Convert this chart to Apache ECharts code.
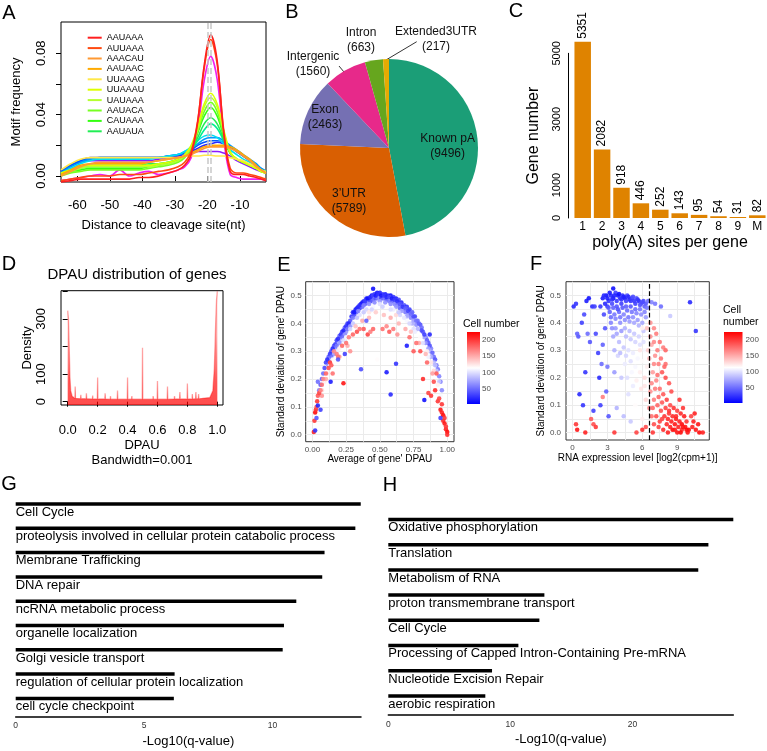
<!DOCTYPE html>
<html><head><meta charset="utf-8">
<script src="https://cdn.jsdelivr.net/npm/echarts@6/dist/echarts.min.js"></script>
<style>html,body{margin:0;padding:0;background:#fff}#c{width:767px;height:751px}</style>
</head><body><div id="c"></div>
<script>
const FONT = '"Liberation Sans", Arial, Helvetica, sans-serif';

// ---------- Panel A : motif frequency ----------
const motifPos = [-65,-62,-59,-56,-53,-50,-47,-44,-41,-38,-35,-32,-29,-27,-25,-23,-21,-19,-17,-15,-13,-11,-9,-7,-5,-3.5,-2];
const motifNames = ['AAUAAA','AUUAAA','AAACAU','AAUAAC','UUAAAG','UUAAAU','UAUAAA','AAUACA','CAUAAA','AAUAUA','motif 11','motif 12','motif 13','motif 14','motif 15','motif 16','motif 17'];
const motifColors = ['#FF2020','#FF4A10','#FF9933','#FFAA00','#FFE84A','#DDFF00','#B5FF30','#77FF22','#33FF11','#22EE55','#00F090','#00E0F0','#0099FF','#0055FF','#2828FF','#8C1AFF','#F020F0'];
const freqAAUAAA = [-0.004,-0.003,-0.002,-0.002,-0.002,-0.002,-0.002,-0.002,-0.001,-0.001,0.000,0.002,0.004,0.007,0.014,0.035,0.072,0.092,0.075,0.028,0.003,0.001,0.001,0.000,-0.001,-0.002,-0.003];
const freqAUUAAA = [-0.003,-0.002,-0.001,0.000,0.000,0.000,0.001,0.001,0.001,0.002,0.003,0.004,0.006,0.009,0.016,0.036,0.070,0.089,0.073,0.030,0.005,0.002,0.002,0.001,0.000,-0.001,-0.002];
const freqAAACAU = [0.000,0.003,0.006,0.008,0.009,0.009,0.009,0.009,0.009,0.009,0.010,0.011,0.012,0.013,0.014,0.016,0.018,0.019,0.019,0.019,0.018,0.016,0.013,0.010,0.006,0.004,0.002];
const freqAAUAAC = [0.001,0.004,0.007,0.008,0.008,0.008,0.008,0.008,0.008,0.009,0.010,0.011,0.012,0.013,0.015,0.017,0.019,0.020,0.020,0.020,0.019,0.017,0.014,0.011,0.007,0.004,0.002];
const freqUUAAAG = [0.004,0.008,0.011,0.012,0.012,0.012,0.012,0.012,0.012,0.012,0.012,0.012,0.012,0.013,0.013,0.013,0.0135,0.0135,0.013,0.013,0.012,0.011,0.010,0.008,0.006,0.004,0.003];
const freqUUAAAU = [0.002,0.004,0.006,0.007,0.007,0.007,0.007,0.007,0.007,0.007,0.008,0.009,0.011,0.014,0.020,0.032,0.047,0.054,0.047,0.030,0.016,0.011,0.009,0.007,0.005,0.003,0.002];
const freqUAUAAA = [0.001,0.003,0.005,0.006,0.006,0.006,0.006,0.006,0.006,0.006,0.007,0.008,0.010,0.013,0.019,0.030,0.045,0.051,0.045,0.029,0.015,0.011,0.009,0.007,0.005,0.003,0.002];
const freqAAUACA = [0.000,0.002,0.003,0.004,0.004,0.004,0.004,0.004,0.004,0.005,0.006,0.007,0.009,0.012,0.018,0.029,0.042,0.048,0.042,0.027,0.015,0.011,0.009,0.007,0.005,0.003,0.002];
const freqCAUAAA = [0.001,0.003,0.004,0.005,0.005,0.005,0.005,0.005,0.005,0.006,0.007,0.008,0.010,0.013,0.018,0.028,0.039,0.0447,0.039,0.026,0.015,0.011,0.009,0.007,0.005,0.003,0.002];
const freqAAUAUA = [0.002,0.004,0.006,0.007,0.007,0.007,0.007,0.007,0.007,0.008,0.008,0.009,0.011,0.013,0.017,0.025,0.034,0.038,0.034,0.024,0.015,0.011,0.009,0.007,0.005,0.004,0.003];
const freqMotif11 = [0.001,0.003,0.005,0.006,0.006,0.006,0.006,0.006,0.006,0.007,0.008,0.009,0.011,0.013,0.017,0.023,0.030,0.034,0.031,0.023,0.015,0.011,0.009,0.007,0.005,0.004,0.003];
const freqMotif12 = [0.002,0.005,0.008,0.010,0.011,0.011,0.011,0.011,0.011,0.011,0.012,0.013,0.014,0.016,0.019,0.023,0.026,0.0267,0.025,0.021,0.017,0.014,0.011,0.009,0.006,0.004,0.003];
const freqMotif13 = [0.002,0.006,0.009,0.011,0.012,0.012,0.012,0.012,0.012,0.012,0.012,0.013,0.014,0.016,0.018,0.021,0.024,0.025,0.025,0.023,0.020,0.017,0.014,0.011,0.008,0.005,0.003];
const freqMotif14 = [0.003,0.007,0.010,0.011,0.012,0.012,0.012,0.012,0.012,0.012,0.012,0.013,0.014,0.015,0.017,0.020,0.022,0.023,0.023,0.022,0.019,0.016,0.013,0.010,0.007,0.005,0.003];
const freqMotif15 = [0.003,0.007,0.010,0.012,0.012,0.012,0.012,0.012,0.012,0.012,0.012,0.013,0.013,0.014,0.016,0.018,0.020,0.021,0.022,0.021,0.019,0.016,0.013,0.010,0.007,0.004,0.002];
const freqMotif16 = [0.003,0.007,0.009,0.010,0.010,0.010,0.010,0.010,0.010,0.010,0.011,0.012,0.013,0.014,0.015,0.016,0.016,0.016,0.016,0.015,0.013,0.010,0.008,0.006,0.004,0.003,0.002];
const freqMotif17 = [-0.003,-0.002,-0.001,0.000,0.001,0.000,0.004,0.000,0.002,0.003,0.001,0.002,0.004,0.006,0.012,0.030,0.062,0.078,0.063,0.024,0.001,-0.001,-0.002,-0.002,-0.002,-0.002,-0.003];
const motifFreqs = [freqAAUAAA,freqAUUAAA,freqAAACAU,freqAAUAAC,freqUUAAAG,freqUUAAAU,freqUAUAAA,freqAAUACA,freqCAUAAA,freqAAUAUA,freqMotif11,freqMotif12,freqMotif13,freqMotif14,freqMotif15,freqMotif16,freqMotif17];
const motifDashes = [-20, -19];

// ---------- Panel B : pie ----------
const pieNames = ['Known pA','3’UTR','Exon','Intergenic','Intron','Extended3UTR'];
const pieCounts = [9496, 5789, 2463, 1560, 663, 217];
const pieColors = ['#1B9E77','#D95F02','#7570B3','#E7298A','#66A61E','#E6AB02'];

// ---------- Panel C : bars ----------
const cCategories = ['1','2','3','4','5','6','7','8','9','M'];
const cCounts = [5351, 2082, 918, 446, 252, 143, 95, 54, 31, 82];

// ---------- Panel D : DPAU density ----------
const dpauX = [0,0.005,0.01,0.015,0.02,0.03,0.04,0.048,0.05,0.052,0.086,0.088,0.09,0.123,0.125,0.127,0.165,0.167,0.169,0.198,0.2,0.202,0.248,0.25,0.252,0.284,0.286,0.288,0.331,0.333,0.335,0.398,0.4,0.402,0.427,0.429,0.431,0.498,0.5,0.502,0.569,0.571,0.573,0.598,0.6,0.602,0.665,0.667,0.669,0.712,0.714,0.716,0.748,0.75,0.752,0.798,0.8,0.802,0.831,0.833,0.835,0.855,0.857,0.859,0.873,0.875,0.877,0.9,0.95,0.97,0.98,0.99,0.995,1.0];
const dpauDensity = [330,300,200,90,40,20,14,12,55,12,11,25,11,11,30,11,10,22,10,10,88,10,10,30,10,9,20,9,9,40,9,9,88,9,9,20,9,9,195,9,9,20,9,9,75,9,9,55,9,10,20,10,10,35,10,10,66,10,10,28,10,11,35,11,11,28,11,12,15,40,120,300,370,400];

// ---------- Panel E : sd vs mean DPAU  [mean, sd, cell number] ----------
const ePoints = [
[0.30,0.44,20],[0.32,0.45,15],[0.34,0.46,25],[0.36,0.47,10],[0.38,0.48,30],[0.40,0.49,15],[0.42,0.49,20],[0.44,0.50,10],[0.46,0.505,25],[0.48,0.51,12],[0.50,0.51,18],[0.52,0.505,30],[0.54,0.505,15],[0.56,0.50,22],[0.58,0.50,10],[0.60,0.495,28],[0.62,0.49,16],[0.64,0.485,35],[0.66,0.475,20],[0.68,0.465,40],[0.70,0.46,25],[0.72,0.45,30],[0.74,0.44,45],[0.76,0.425,35],[0.78,0.41,50],[0.80,0.395,40],
[0.28,0.41,40],[0.31,0.43,35],[0.33,0.44,45],[0.35,0.455,30],[0.37,0.46,50],[0.39,0.47,40],[0.41,0.475,55],[0.43,0.48,35],[0.45,0.485,45],[0.47,0.49,40],[0.49,0.49,60],[0.51,0.49,35],[0.53,0.49,50],[0.55,0.485,40],[0.57,0.48,55],[0.59,0.48,45],[0.61,0.47,60],[0.63,0.465,50],[0.65,0.455,45],[0.67,0.45,60],[0.69,0.44,55],[0.71,0.43,65],[0.73,0.42,60],[0.75,0.41,70],[0.77,0.395,65],
[0.29,0.425,25],[0.31,0.44,12],[0.33,0.455,18],[0.35,0.465,22],[0.37,0.475,14],[0.39,0.48,28],[0.41,0.49,9],[0.43,0.495,20],[0.45,0.50,30],[0.47,0.50,15],[0.49,0.505,24],[0.51,0.50,11],[0.53,0.50,26],[0.55,0.495,19],[0.57,0.495,33],[0.59,0.49,14],[0.61,0.485,27],[0.63,0.48,21],[0.65,0.47,38],[0.67,0.46,25],[0.69,0.455,42],[0.71,0.445,30],[0.73,0.435,48],[0.75,0.425,36],[0.77,0.41,52],[0.79,0.40,44],[0.81,0.385,50],
[0.30,0.42,55],[0.34,0.445,60],[0.38,0.465,58],[0.42,0.47,65],[0.46,0.475,62],[0.50,0.48,70],[0.54,0.475,66],[0.58,0.47,63],[0.62,0.46,68],[0.66,0.445,72],[0.70,0.425,75],[0.74,0.40,78],[0.78,0.38,80],
[0.10,0.26,30],[0.12,0.28,45],[0.14,0.30,35],[0.16,0.32,40],[0.18,0.34,30],[0.20,0.355,50],[0.22,0.37,35],[0.24,0.385,45],[0.26,0.40,30],[0.13,0.27,70],[0.17,0.31,65],[0.21,0.34,75],[0.25,0.37,70],[0.27,0.385,60],[0.08,0.22,50],[0.06,0.18,40],
[0.11,0.27,20],[0.13,0.29,25],[0.15,0.31,20],[0.17,0.325,28],[0.19,0.345,22],[0.21,0.36,26],[0.23,0.375,18],[0.25,0.39,24],[0.27,0.40,20],[0.09,0.24,35],[0.07,0.20,45],[0.05,0.16,55],[0.12,0.25,60],[0.16,0.29,72],[0.20,0.33,68],[0.24,0.36,62],[0.28,0.39,66],[0.14,0.28,50],[0.18,0.32,55],[0.22,0.35,48],[0.26,0.38,52],
[0.82,0.37,45],[0.84,0.35,55],[0.86,0.33,40],[0.88,0.31,60],[0.90,0.28,50],[0.92,0.25,55],[0.94,0.21,60],[0.83,0.35,75],[0.87,0.30,80],[0.91,0.25,85],
[0.81,0.375,35],[0.83,0.36,30],[0.85,0.34,42],[0.87,0.32,38],[0.89,0.295,46],[0.91,0.27,40],[0.93,0.235,52],[0.95,0.19,58],[0.96,0.16,62],[0.84,0.33,68],[0.86,0.31,72],[0.88,0.28,78],[0.90,0.26,82],[0.92,0.23,88],[0.94,0.19,90],
[0.30,0.40,90],[0.35,0.43,100],[0.40,0.45,95],[0.45,0.46,110],[0.50,0.47,100],[0.55,0.46,115],[0.60,0.45,105],[0.65,0.43,95],[0.70,0.41,110],[0.75,0.38,100],[0.80,0.35,115],[0.85,0.30,120],[0.88,0.26,125],[0.90,0.23,130],[0.93,0.18,120],[0.95,0.14,110],[0.25,0.35,110],[0.20,0.31,120],[0.15,0.27,115],[0.11,0.22,125],[0.09,0.19,120],[0.07,0.16,130],[0.05,0.13,110],[0.48,0.27,115],[0.62,0.43,130],[0.42,0.44,125],
[0.33,0.42,85],[0.38,0.44,90],[0.44,0.45,95],[0.52,0.46,92],[0.58,0.45,98],[0.64,0.44,88],[0.68,0.42,102],[0.72,0.40,96],[0.76,0.37,105],[0.28,0.38,95],[0.23,0.34,100],[0.18,0.30,105],[0.13,0.25,110],[0.82,0.33,100],[0.86,0.28,108],
[0.32,0.39,140],[0.37,0.41,150],[0.42,0.42,145],[0.47,0.44,135],[0.53,0.43,140],[0.58,0.42,150],[0.64,0.40,145],[0.69,0.38,150],[0.73,0.37,140],[0.79,0.33,150],[0.84,0.29,145],[0.89,0.22,155],[0.26,0.32,150],[0.20,0.28,155],[0.10,0.20,150],[0.07,0.14,160],
[0.01,0.01,210],[0.015,0.05,200],[0.02,0.08,220],[0.025,0.09,205],[0.03,0.10,190],[0.035,0.12,200],[0.04,0.14,185],[0.05,0.15,195],[0.06,0.16,170],[0.07,0.18,175],[0.08,0.20,165],[0.10,0.22,180],[0.12,0.24,190],[0.13,0.26,200],[0.14,0.25,185],[0.15,0.22,175],[0.16,0.30,165],[0.18,0.29,170],[0.19,0.28,175],[0.23,0.185,215],[0.22,0.32,180],[0.25,0.33,175],[0.27,0.35,170],[0.28,0.30,160],[0.30,0.36,180],[0.33,0.37,190],[0.35,0.38,175],[0.38,0.38,185],[0.41,0.36,195],[0.43,0.37,170],[0.45,0.38,180],[0.52,0.38,175],[0.55,0.39,165],[0.57,0.37,185],[0.60,0.38,170],[0.63,0.36,160],[0.72,0.35,175],[0.75,0.30,185],[0.77,0.33,175],[0.80,0.30,190],[0.82,0.20,205],[0.85,0.26,180],[0.86,0.15,195],[0.88,0.14,200],[0.90,0.19,190],[0.91,0.16,205],[0.92,0.22,185],[0.93,0.12,200],[0.94,0.13,195],[0.95,0.09,215],[0.96,0.08,210],[0.96,0.11,200],[0.97,0.07,220],[0.97,0.05,205],[0.98,0.06,200],[0.98,0.04,215],[0.99,0.02,210],[0.99,0.03,200],[1.0,0.01,220],[1.0,0.0,205],
[0.45,0.525,10],[0.58,0.145,20],[0.55,0.225,15],[0.62,0.255,25],[0.135,0.19,15],[0.83,0.125,10],[0.70,0.32,15],[0.87,0.36,20],[0.95,0.06,30],[0.02,0.015,25],[0.03,0.06,40],[0.04,0.105,20],[0.06,0.09,30],[0.36,0.235,35],[0.24,0.29,30],[0.40,0.41,45],[0.04,0.19,50],[0.19,0.27,40]
];

// ---------- Panel F : sd vs expression  [log2(cpm+1), sd, cell number] ----------
const fPoints = [
[2.6,0.49,15],[2.9,0.50,10],[3.1,0.48,25],[3.3,0.50,20],[3.5,0.49,10],[3.7,0.51,30],[3.9,0.50,15],[4.1,0.49,20],[4.3,0.50,25],[4.5,0.49,12],[4.7,0.50,35],[4.9,0.485,20],[5.1,0.49,30],[5.3,0.48,25],[5.5,0.49,40],[5.7,0.48,20],[5.9,0.47,45],[6.1,0.48,35],[6.3,0.47,40],[6.5,0.48,50],[3.0,0.46,30],[3.4,0.47,35],[3.8,0.46,40],[4.2,0.47,30],[4.6,0.46,45],[5.0,0.46,40],[5.4,0.45,50],[5.8,0.45,55],[6.2,0.44,60],[3.2,0.44,45],[3.6,0.43,55],[4.0,0.44,50],[4.4,0.43,60],[4.8,0.42,55],[5.2,0.42,65],[5.6,0.41,70],[6.0,0.40,75],[3.5,0.525,10],[2.8,0.47,20],[6.8,0.475,60],[7.1,0.47,55],
[2.7,0.50,20],[3.0,0.49,15],[3.2,0.51,12],[3.4,0.485,22],[3.6,0.50,18],[3.8,0.48,28],[4.0,0.505,10],[4.2,0.485,24],[4.4,0.495,16],[4.6,0.48,30],[4.8,0.495,20],[5.0,0.48,26],[5.2,0.495,35],[5.4,0.47,30],[5.6,0.485,25],[5.8,0.465,40],[6.0,0.475,35],[6.2,0.46,45],[6.4,0.455,55],[3.1,0.455,40],[3.5,0.455,45],[3.9,0.45,38],[4.3,0.455,42],[4.7,0.445,50],[5.1,0.44,55],[5.5,0.435,60],[5.9,0.43,65],[6.3,0.42,70],[3.3,0.42,50],[3.7,0.415,60],[4.1,0.42,55],[4.5,0.41,65],[4.9,0.405,70],[5.3,0.40,75],[5.7,0.39,80],[6.1,0.37,90],
[3.3,0.40,60],[3.7,0.38,70],[4.1,0.40,65],[4.5,0.38,80],[4.9,0.37,85],[5.3,0.36,90],[5.7,0.35,95],[6.1,0.33,100],[3.5,0.35,75],[4.0,0.33,85],[4.4,0.31,90],[4.8,0.30,100],[5.2,0.29,105],[5.6,0.27,110],[6.0,0.26,115],[6.4,0.24,120],[3.9,0.28,95],[4.5,0.25,105],[5.1,0.22,110],[5.5,0.19,120],[4.2,0.20,90],[3.6,0.22,70],[5.9,0.16,125],[6.3,0.12,130],[4.8,0.14,100],[5.4,0.10,115],[6.0,0.05,120],[3.8,0.09,80],[4.4,0.06,85],[5.0,0.04,90],
[3.4,0.38,65],[3.8,0.36,75],[4.2,0.37,70],[4.6,0.35,85],[5.0,0.34,90],[5.4,0.33,95],[5.8,0.32,100],[6.2,0.30,110],[3.6,0.30,80],[4.1,0.29,85],[4.6,0.28,95],[5.0,0.26,100],[5.4,0.24,110],[5.8,0.22,120],[6.2,0.17,125],[4.7,0.20,100],[5.2,0.17,105],
[0.1,0.46,20],[0.3,0.47,25],[0.5,0.35,40],[0.8,0.40,30],[1.0,0.43,35],[1.1,0.22,25],[0.6,0.14,20],[1.2,0.48,15],[1.4,0.49,10],[1.7,0.46,20],[1.9,0.46,30],[1.5,0.33,40],[2.0,0.36,35],[2.2,0.29,30],[2.4,0.46,25],[2.3,0.20,20],[0.9,0.10,25],[2.4,0.10,30],[2.6,0.32,45],[2.8,0.38,40],[2.5,0.25,50],[1.8,0.08,30],[2.9,0.15,45],[3.1,0.06,40],[3.0,0.24,55],[2.7,0.43,35],[0.4,0.36,45],[1.3,0.36,50],
[6.7,0.40,160],[7.0,0.38,165],[7.2,0.36,170],[7.5,0.33,175],[7.8,0.31,170],[8.0,0.30,180],[6.8,0.32,150],[7.1,0.28,160],[7.4,0.25,170],[7.7,0.22,185],[8.0,0.20,190],[8.3,0.18,185],[6.6,0.27,145],[6.9,0.22,155],[7.2,0.19,165],[7.5,0.16,175],[7.8,0.14,185],[8.1,0.12,195],[8.4,0.10,190],[8.7,0.09,200],[9.0,0.08,195],[9.3,0.07,205],[9.6,0.06,210],[6.7,0.15,160],[7.0,0.12,170],[7.3,0.10,180],[7.6,0.08,190],[7.9,0.06,200],[8.2,0.05,205],[8.5,0.04,210],[8.8,0.03,215],[9.1,0.02,210],[9.4,0.03,220],[9.7,0.02,215],[10.0,0.01,220],[10.3,0.02,210],[10.6,0.01,215],[10.9,0.0,220],[11.2,0.0,210],[7.0,0.03,190],[7.4,0.02,195],[7.8,0.01,205],[8.2,0.0,210],[8.6,0.01,220],[9.0,0.0,215],[9.4,0.01,205],[9.8,0.04,200],[10.2,0.06,195],[6.8,0.06,175],[6.6,0.09,165],[8.0,0.25,175],[8.5,0.15,190],[9.2,0.12,200],[10.5,0.07,210],[8.3,0.07,200],[7.5,0.04,195],[8.9,0.06,205],[9.5,0.09,200],[10.8,0.03,215],[6.9,0.0,200],
[6.7,0.35,160],[7.0,0.33,165],[7.3,0.30,170],[7.6,0.27,175],[7.9,0.24,180],[6.8,0.18,165],[7.1,0.16,170],[7.4,0.13,180],[7.7,0.11,185],[8.0,0.09,195],[8.3,0.08,200],[8.6,0.06,205],[8.9,0.05,210],[9.2,0.04,210],[9.5,0.02,215],[9.8,0.01,220],[7.2,0.06,190],[7.7,0.05,195],[8.1,0.03,205],[8.4,0.02,210],[8.8,0.01,215],[9.3,0.0,220],[9.9,0.0,215],[10.4,0.04,210],[7.0,0.25,165],[7.3,0.21,175],[6.9,0.09,180],
[0.3,0.03,200],[0.4,0.01,215],[1.1,0.0,210],[1.8,0.03,190],[2.0,0.02,200],[3.6,0.0,200],[5.5,0.0,195],[6.0,0.01,205],[6.3,0.02,190],[2.6,0.13,170],[1.6,0.05,185],
[6.4,0.38,140],[6.5,0.30,135],[6.2,0.20,130],[5.8,0.30,125],[6.0,0.38,120],
[10.1,0.475,20],[10.6,0.37,25],[7.6,0.46,50],[8.4,0.425,90]
];
const fCutoff = 6.6;
const cellTicks = [50, 100, 150, 200];

// ---------- Panels G / H : enrichment ----------
const gTerms = ['Cell Cycle','proteolysis involved in cellular protein catabolic process','Membrane Trafficking','DNA repair','ncRNA metabolic process','organelle localization','Golgi vesicle transport','regulation of cellular protein localization','cell cycle checkpoint'];
const gValues = [13.44, 13.23, 12.03, 11.94, 10.93, 10.45, 10.40, 6.19, 6.16];
const hTerms = ['Oxidative phosphorylation','Translation','Metabolism of RNA','proton transmembrane transport','Cell Cycle','Processing of Capped Intron-Containing Pre-mRNA','Nucleotide Excision Repair','aerobic respiration'];
const hValues = [28.27, 26.23, 25.40, 12.79, 12.38, 10.66, 8.50, 7.95];

// ================= build option =================
const chart = echarts.init(document.getElementById('c'), null, {renderer: 'canvas'});
const black = '#000';
const grey30 = '#4D4D4D';
const gridLine = '#EBEBEB';

function boxGrid(l, t, w, h, border) {
  return {left: l, top: t, width: w, height: h, show: !!border, borderColor: border || 'transparent', borderWidth: 1, backgroundColor: 'transparent', containLabel: false, outerBoundsMode: 'none'};
}
const grids = [
  boxGrid(61, 22, 205, 160, '#000'),        // 0 A
  boxGrid(573, 53.3, 194, 164.7),           // 1 C
  boxGrid(61, 290.7, 162, 114.3, '#000'),   // 2 D
  boxGrid(305.7, 281.7, 148.3, 160, '#333'),// 3 E
  boxGrid(566, 281.7, 143.3, 158.3, '#333'),// 4 F
  boxGrid(15.7, 491.85, 345.3, 218.7),      // 5 G
  boxGrid(388.3, 506.9, 345, 201.6),        // 6 H
  boxGrid(467, 332, 13, 72),                // 7 E colourbar
  boxGrid(724, 332, 18.5, 71)               // 8 F colourbar
];

const nameStyle = (fs) => ({fontSize: fs, color: black, fontFamily: FONT});

const xAxes = [
  {gridIndex: 0, type: 'value', min: -65, max: -2, axisLine: {show: false}, splitLine: {show: false},
   axisTick: {customValues: [-60,-50,-40,-30,-20,-10], length: 5, lineStyle: {color: black}},
   axisLabel: {customValues: [-60,-50,-40,-30,-20,-10], margin: 17, fontSize: 13, color: black},
   name: 'Distance to cleavage site(nt)', nameLocation: 'middle', nameGap: 37, nameTextStyle: nameStyle(13)},
  {gridIndex: 1, type: 'category', data: cCategories, axisLine: {show: false}, axisTick: {show: false},
   axisLabel: {margin: 3, fontSize: 12, color: black},
   name: 'poly(A) sites per gene', nameLocation: 'middle', nameGap: 17, nameTextStyle: nameStyle(16)},
  {gridIndex: 2, type: 'value', min: -0.0448, max: 1.038, axisLine: {show: false}, splitLine: {show: false},
   axisTick: {customValues: [0,0.2,0.4,0.6,0.8,1], length: 5, lineStyle: {color: black}},
   axisLabel: {customValues: [0,0.2,0.4,0.6,0.8,1], formatter: v => v.toFixed(1), margin: 19, fontSize: 13, color: black},
   name: 'DPAU\nBandwidth=0.001', nameLocation: 'middle', nameGap: 30, nameTextStyle: {fontSize: 13, color: black, lineHeight: 15, fontFamily: FONT}},
  {gridIndex: 3, type: 'value', min: -0.05, max: 1.05, axisLine: {show: false},
   axisTick: {show: false, customValues: [0,0.125,0.25,0.375,0.5,0.625,0.75,0.875,1]},
   splitLine: {show: true, lineStyle: {color: gridLine, width: 1}},
   axisLabel: {customValues: [0,0.25,0.5,0.75,1], formatter: v => v.toFixed(2), margin: 4, fontSize: 8, color: grey30},
   name: "Average of gene' DPAU", nameLocation: 'middle', nameGap: 12, nameTextStyle: nameStyle(10)},
  {gridIndex: 4, type: 'value', min: -0.56, max: 11.76, axisLine: {show: false},
   axisTick: {show: false, customValues: [0,1.5,3,4.5,6,7.5,9,10.5]},
   splitLine: {show: true, lineStyle: {color: gridLine, width: 1}},
   axisLabel: {customValues: [0,3,6,9], margin: 4, fontSize: 8, color: grey30},
   name: 'RNA expression level [log2(cpm+1)]', nameLocation: 'middle', nameGap: 12, nameTextStyle: nameStyle(10)},
  {gridIndex: 5, type: 'value', min: 0, max: 13.45, offset: 6, splitLine: {show: false},
   axisLine: {show: true, lineStyle: {color: black, width: 1.5}},
   axisTick: {customValues: [0,5,10], length: 3, lineStyle: {color: black}},
   axisLabel: {customValues: [0,5,10], margin: 5, fontSize: 8.5, color: '#333'},
   name: '-Log10(q-value)', nameLocation: 'middle', nameGap: 18, nameTextStyle: nameStyle(13)},
  {gridIndex: 6, type: 'value', min: 0, max: 28.27, offset: 6.5, splitLine: {show: false},
   axisLine: {show: true, lineStyle: {color: black, width: 1.5}},
   axisTick: {customValues: [0,10,20], length: 3, lineStyle: {color: black}},
   axisLabel: {customValues: [0,10,20], margin: 5, fontSize: 8.5, color: '#333'},
   name: '-Log10(q-value)', nameLocation: 'middle', nameGap: 18, nameTextStyle: nameStyle(13)},
  {gridIndex: 7, type: 'category', data: ['c'], show: false},
  {gridIndex: 8, type: 'category', data: ['c'], show: false}
];

const yAxes = [
  {gridIndex: 0, type: 'value', min: -0.0039, max: 0.1004, axisLine: {show: false}, splitLine: {show: false},
   axisTick: {customValues: [0,0.02,0.04,0.06,0.08], length: 5, lineStyle: {color: black}},
   axisLabel: {customValues: [0,0.04,0.08], formatter: v => v.toFixed(2), rotate: 90, margin: 13, fontSize: 13, color: black},
   name: 'Motif frequency', nameLocation: 'middle', nameGap: 38, nameTextStyle: nameStyle(13)},
  {gridIndex: 1, type: 'value', min: 0, max: 5000, offset: 5, splitLine: {show: false},
   axisLine: {show: true, lineStyle: {color: black, width: 1}},
   axisTick: {customValues: [0,1000,2000,3000,4000,5000], length: 5, lineStyle: {color: black}},
   axisLabel: {customValues: [0,1000,3000,5000], formatter: v => String(v), rotate: 90, margin: 6, fontSize: 11, color: black},
   name: 'Gene number', nameLocation: 'middle', nameGap: 26, nameTextStyle: nameStyle(16)},
  {gridIndex: 2, type: 'value', min: -12, max: 402, axisLine: {show: false}, splitLine: {show: false},
   axisTick: {customValues: [0,100,200,300,400], length: 5, lineStyle: {color: black}},
   axisLabel: {customValues: [0,100,300], rotate: 90, margin: 13, fontSize: 13, color: black},
   name: 'Density', nameLocation: 'middle', nameGap: 26, nameTextStyle: nameStyle(13)},
  {gridIndex: 3, type: 'value', min: -0.025, max: 0.55, axisLine: {show: false},
   axisTick: {show: false, customValues: [0,0.05,0.1,0.15,0.2,0.25,0.3,0.35,0.4,0.45,0.5]},
   splitLine: {show: true, lineStyle: {color: gridLine, width: 1}},
   axisLabel: {customValues: [0,0.1,0.2,0.3,0.4,0.5], formatter: v => v.toFixed(1), margin: 4, fontSize: 8, color: grey30},
   name: "Standard deviation of gene' DPAU", nameLocation: 'middle', nameGap: 17, nameTextStyle: nameStyle(10)},
  {gridIndex: 4, type: 'value', min: -0.027, max: 0.55, axisLine: {show: false},
   axisTick: {show: false, customValues: [0,0.05,0.1,0.15,0.2,0.25,0.3,0.35,0.4,0.45,0.5]},
   splitLine: {show: true, lineStyle: {color: gridLine, width: 1}},
   axisLabel: {customValues: [0,0.1,0.2,0.3,0.4,0.5], formatter: v => v.toFixed(1), margin: 5, fontSize: 8, color: grey30},
   name: "Standard deviation of gene' DPAU", nameLocation: 'middle', nameGap: 18, nameTextStyle: nameStyle(10)},
  {gridIndex: 5, type: 'category', data: gTerms, inverse: true, show: false},
  {gridIndex: 6, type: 'category', data: hTerms, inverse: true, show: false},
  {gridIndex: 7, type: 'value', min: 2, max: 225, position: 'right', axisLine: {show: false}, splitLine: {show: false},
   axisTick: {customValues: cellTicks, inside: true, length: 3, lineStyle: {color: '#fff'}},
   axisLabel: {customValues: cellTicks, margin: 2, fontSize: 8, color: grey30}},
  {gridIndex: 8, type: 'value', min: 2, max: 225, position: 'right', axisLine: {show: false}, splitLine: {show: false},
   axisTick: {customValues: cellTicks, inside: true, length: 4, lineStyle: {color: '#fff'}},
   axisLabel: {customValues: cellTicks, margin: 3, fontSize: 8, color: grey30}}
];

const series = [];
for (let k = motifNames.length - 1; k >= 0; k--) {
  const s = {
    type: 'line', name: motifNames[k], xAxisIndex: 0, yAxisIndex: 0,
    data: motifPos.map((x, i) => [x, motifFreqs[k][i]]),
    smooth: 0.35, showSymbol: false, symbol: 'none', color: motifColors[k],
    lineStyle: {width: 1.6, color: motifColors[k]}, z: 3
  };
  if (k === motifNames.length - 1) {
    s.markLine = {silent: true, symbol: 'none', label: {show: false},
      lineStyle: {color: '#C8C8C8', type: 'dashed', width: 1.5},
      data: motifDashes.map(v => ({xAxis: v}))};
  }
  series.push(s);
}
const pieLabelPos = [[447.7,146],[349,201],[325,117],[313,64],[361,40],[436,39]];
const pieLeaders = {3: [[339,66],[344,72],[344,72]], 5: [[416.7,41.7],[386,60],[386,60]]};
series.push({
  type: 'pie', center: [389, 148], radius: 89, startAngle: 90, clockwise: true, avoidLabelOverlap: false,
  data: pieNames.map((n, i) => ({name: n, value: pieCounts[i], itemStyle: {color: pieColors[i]},
    labelLine: {show: !!pieLeaders[i]}})),
  label: {show: true, position: 'outside', formatter: '{b}\n({c})', fontSize: 12, lineHeight: 15, color: '#111', fontFamily: FONT},
  labelLine: {show: true, lineStyle: {color: '#000', width: 0.8}},
  labelLayout: function (p) {
    const pos = pieLabelPos[p.dataIndex];
    const r = {x: pos[0], y: pos[1], align: 'center', verticalAlign: 'middle'};
    if (pieLeaders[p.dataIndex]) r.labelLinePoints = pieLeaders[p.dataIndex];
    return r;
  },
  emphasis: {disabled: true}
});
series.push({
  type: 'bar', xAxisIndex: 1, yAxisIndex: 1, data: cCounts, barCategoryGap: '15%', clip: false,
  itemStyle: {color: '#DF8300'},
  label: {show: true, position: 'top', rotate: 90, align: 'left', verticalAlign: 'middle', distance: 3, fontSize: 12, color: black}
});
series.push({
  type: 'line', xAxisIndex: 2, yAxisIndex: 2, data: dpauX.map((x, i) => [x, dpauDensity[i]]),
  showSymbol: false, symbol: 'none', smooth: false,
  lineStyle: {color: 'rgba(255,0,0,0.35)', width: 1.3},
  areaStyle: {origin: 'start', color: new echarts.graphic.LinearGradient(0, 0, 0, 1, [
    {offset: 0, color: 'rgba(255,0,0,0.3)'}, {offset: 0.4, color: 'rgba(255,0,0,0.5)'}, {offset: 0.8, color: 'rgba(255,0,0,0.95)'}, {offset: 1, color: 'rgba(255,0,0,1)'}])}
});
const eIndex = series.length;
series.push({type: 'scatter', xAxisIndex: 3, yAxisIndex: 3, data: ePoints, symbolSize: 4.5, itemStyle: {opacity: 0.9}});
const fIndex = series.length;
series.push({type: 'scatter', xAxisIndex: 4, yAxisIndex: 4, data: fPoints, symbolSize: 4.5, itemStyle: {opacity: 0.9},
  markLine: {silent: true, symbol: 'none', label: {show: false}, lineStyle: {color: '#000', type: 'dashed', width: 1.2},
    data: [{xAxis: fCutoff}]}});
function enrichSeries(xi, vals) {
  return {type: 'bar', xAxisIndex: xi, yAxisIndex: xi, data: vals, barWidth: 3.5, itemStyle: {color: '#000'},
    label: {show: true, formatter: '{b}', position: [0, 3.5], fontSize: 13, color: '#000', fontFamily: FONT}};
}
series.push(enrichSeries(5, gValues));
series.push(enrichSeries(6, hValues));
const cbGradient = () => new echarts.graphic.LinearGradient(0, 0, 0, 1, [
  {offset: 0, color: '#FF0000'}, {offset: 0.5, color: '#FFFFFF'}, {offset: 1, color: '#0000FF'}]);
series.push({type: 'bar', xAxisIndex: 7, yAxisIndex: 7, data: [225], barWidth: '100%', silent: true, itemStyle: {color: cbGradient()}});
series.push({type: 'bar', xAxisIndex: 8, yAxisIndex: 8, data: [225], barWidth: '100%', silent: true, itemStyle: {color: cbGradient()}});

const letter = (t, x, y) => ({type: 'text', x: x, y: y, style: {text: t, font: '20px ' + FONT, fill: '#000', textAlign: 'center', textVerticalAlign: 'middle'}});
const txt = (t, x, y, fs, align) => ({type: 'text', x: x, y: y, style: {text: t, font: fs + 'px ' + FONT, fill: '#000', textAlign: align || 'left', textVerticalAlign: 'middle'}});

const option = {
  animation: false,
  backgroundColor: '#fff',
  textStyle: {fontFamily: FONT},
  grid: grids,
  xAxis: xAxes,
  yAxis: yAxes,
  legend: {
    data: motifNames.slice(0, 10), orient: 'vertical', left: 82.7, top: 27.5,
    icon: 'rect', itemWidth: 14, itemHeight: 2, itemGap: 0,
    textStyle: {fontSize: 9, lineHeight: 10.4, color: '#000', fontFamily: FONT}, selectedMode: false
  },
  visualMap: [
    {type: 'continuous', show: false, min: 2, max: 225, dimension: 2, seriesIndex: eIndex, inRange: {color: ['#0000FF', '#FFFFFF', '#FF0000']}},
    {type: 'continuous', show: false, min: 2, max: 225, dimension: 2, seriesIndex: fIndex, inRange: {color: ['#0000FF', '#FFFFFF', '#FF0000']}}
  ],
  graphic: [
    letter('A', 9, 13), letter('B', 292, 12), letter('C', 516, 11), letter('D', 9, 264),
    letter('E', 284, 265), letter('F', 536, 264), letter('G', 9, 484), letter('H', 390, 485),
    txt('DPAU distribution of genes', 137, 275, 15, 'center'),
    txt('Cell number', 463, 324, 10.5),
    txt('Cell', 723, 310, 10.5), txt('number', 723, 322, 10.5)
  ],
  series: series
};
chart.setOption(option);
</script>
</body></html>
